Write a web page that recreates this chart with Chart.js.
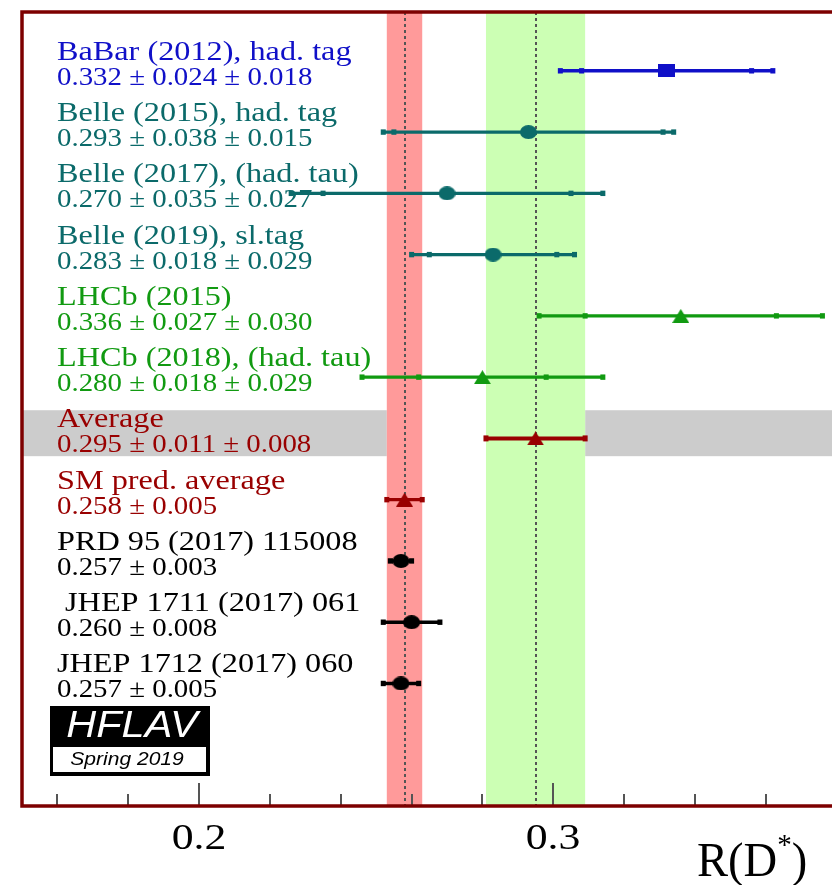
<!DOCTYPE html>
<html>
<head>
<meta charset="utf-8">
<script src="https://cdn.jsdelivr.net/npm/chart.js@4/dist/chart.umd.min.js"></script>
<style>
  html, body { margin: 0; padding: 0; background: #fff; }
  canvas { display: block; }
</style>
</head>
<body>
<canvas id="myChart" width="832" height="885"></canvas>
<script>
// measurements, top to bottom
const names = [
  'BaBar (2012), had. tag',
  'Belle (2015), had. tag',
  'Belle (2017), (had. tau)',
  'Belle (2019), sl.tag',
  'LHCb (2015)',
  'LHCb (2018), (had. tau)',
  'Average',
  'SM pred. average',
  'PRD 95 (2017) 115008',
  ' JHEP 1711 (2017) 061',
  'JHEP 1712 (2017) 060'
];
const valueTexts = [
  '0.332 \u00b1 0.024 \u00b1 0.018',
  '0.293 \u00b1 0.038 \u00b1 0.015',
  '0.270 \u00b1 0.035 \u00b1 0.027',
  '0.283 \u00b1 0.018 \u00b1 0.029',
  '0.336 \u00b1 0.027 \u00b1 0.030',
  '0.280 \u00b1 0.018 \u00b1 0.029',
  '0.295 \u00b1 0.011 \u00b1 0.008',
  '0.258 \u00b1 0.005',
  '0.257 \u00b1 0.003',
  '0.260 \u00b1 0.008',
  '0.257 \u00b1 0.005'
];
const centers  = [0.332, 0.293, 0.270, 0.283, 0.336, 0.280, 0.295, 0.258, 0.257, 0.260, 0.257];
const statErr  = [0.024, 0.038, 0.035, 0.018, 0.027, 0.018, 0.014, 0.005, 0.003, 0.008, 0.005];
const totalErr = [0.030, 0.041, 0.044, 0.023, 0.040, 0.034, 0.014, 0.005, 0.003, 0.008, 0.005];

const minorTicks = [0.16, 0.18, 0.22, 0.24, 0.26, 0.28, 0.32, 0.34, 0.36];
const majorTicks = [0.2, 0.3];
const tickLabels = ['0.2', '0.3'];

const SM_ROW = 7, AVG_ROW = 6;

// styles
const BLUE = '#1010c8', TEAL = '#0b6a6a', GREEN = '#119a11', DRED = '#990000', BLACK = '#000';
const rowColors = [BLUE, TEAL, TEAL, TEAL, GREEN, GREEN, DRED, DRED, BLACK, BLACK, BLACK];
const rowShapes = ['rect', 'circle', 'circle', 'circle', 'tri', 'tri', 'tri', 'tri', 'circle', 'circle', 'circle'];

function marker(shape, color, w, h) {
  const c = document.createElement('canvas');
  c.width = w; c.height = h;
  const g = c.getContext('2d');
  g.fillStyle = color;
  g.beginPath();
  if (shape === 'rect') g.rect(0, 0, w, h);
  else if (shape === 'circle') g.ellipse(w / 2, h / 2, w / 2, h / 2, 0, 0, Math.PI * 2);
  else { g.moveTo(w / 2, 0); g.lineTo(w, h); g.lineTo(0, h); g.closePath(); }
  g.fill();
  return c;
}

function sText(ctx, text, x, y, font, sx, color, align) {
  ctx.save();
  ctx.font = font;
  ctx.fillStyle = color;
  ctx.textAlign = align || 'left';
  ctx.textBaseline = 'alphabetic';
  ctx.translate(x, y);
  ctx.scale(sx, 1);
  ctx.fillText(text, 0, 0);
  ctx.restore();
}

const backdrop = {
  id: 'backdrop',
  beforeDatasetsDraw(chart) {
    const { ctx, chartArea: a, scales: { x, y } } = chart;
    ctx.save();
    const redL = x.getPixelForValue(centers[SM_ROW] - totalErr[SM_ROW]);
    const redR = x.getPixelForValue(centers[SM_ROW] + totalErr[SM_ROW]);
    const grnL = x.getPixelForValue(centers[AVG_ROW] - totalErr[AVG_ROW]);
    const grnR = x.getPixelForValue(centers[AVG_ROW] + totalErr[AVG_ROW]);
    // grey strip behind the average
    const gt = y.getPixelForValue(AVG_ROW - 0.46), gb = y.getPixelForValue(AVG_ROW + 0.29);
    ctx.fillStyle = '#cccccc';
    ctx.fillRect(a.left, gt, redL - a.left, gb - gt);
    ctx.fillRect(grnR, gt, a.right - grnR, gb - gt);
    // SM band and average band
    ctx.fillStyle = '#ff9a9a';
    ctx.fillRect(redL, a.top, redR - redL, a.bottom - a.top);
    ctx.fillStyle = '#ccffb4';
    ctx.fillRect(grnL, a.top, grnR - grnL, a.bottom - a.top);
    // dashed central lines
    ctx.strokeStyle = '#555';
    ctx.lineWidth = 2;
    ctx.setLineDash([3, 3]);
    [centers[SM_ROW], centers[AVG_ROW]].forEach(v => {
      const px = Math.round(x.getPixelForValue(v));
      ctx.beginPath();
      ctx.moveTo(px, a.top);
      ctx.lineTo(px, a.bottom);
      ctx.stroke();
    });
    ctx.setLineDash([]);

    // labels
    names.forEach((n, i) => {
      const py = y.getPixelForValue(i);
      sText(ctx, n, 57, py - 11, '27px "Liberation Serif"', 1.194, rowColors[i]);
      sText(ctx, valueTexts[i], 57, py + 14, '26px "Liberation Serif"', 1.11, rowColors[i]);
    });

    // error bars
    centers.forEach((c, i) => {
      const py = y.getPixelForValue(i);
      const lo = x.getPixelForValue(c - totalErr[i]);
      const hi = x.getPixelForValue(c + totalErr[i]);
      const lw = i === AVG_ROW ? 4 : 3.4;
      ctx.strokeStyle = rowColors[i];
      ctx.fillStyle = rowColors[i];
      ctx.lineWidth = lw;
      ctx.beginPath();
      ctx.moveTo(lo, py);
      ctx.lineTo(hi, py);
      ctx.stroke();
      const caps = [lo, hi];
      if (statErr[i] !== totalErr[i]) {
        caps.push(x.getPixelForValue(c - statErr[i]), x.getPixelForValue(c + statErr[i]));
      }
      caps.forEach(px => ctx.fillRect(px - 2.5, py - lw / 2 - 1, 5, lw + 2));
    });
    ctx.restore();
  },
  afterDraw(chart) {
    const { ctx, chartArea: a, scales: { x } } = chart;
    ctx.save();
    // inward ticks
    ctx.strokeStyle = '#555';
    ctx.lineWidth = 2;
    minorTicks.forEach(v => {
      const px = Math.round(x.getPixelForValue(v));
      ctx.beginPath(); ctx.moveTo(px, a.bottom); ctx.lineTo(px, a.bottom - 12); ctx.stroke();
    });
    majorTicks.forEach((v, k) => {
      const px = Math.round(x.getPixelForValue(v));
      ctx.beginPath(); ctx.moveTo(px, a.bottom); ctx.lineTo(px, a.bottom - 23); ctx.stroke();
      sText(ctx, tickLabels[k], px, a.bottom + 43, '35px "Liberation Serif"', 1.25, '#000', 'center');
    });
    // frame (right side is outside the picture)
    ctx.strokeStyle = '#7d0000';
    ctx.lineWidth = 3.5;
    ctx.beginPath();
    ctx.moveTo(a.right + 2, a.top);
    ctx.lineTo(a.left, a.top);
    ctx.lineTo(a.left, a.bottom);
    ctx.lineTo(a.right + 2, a.bottom);
    ctx.stroke();

    // axis title R(D*)
    ctx.fillStyle = '#000';
    const ty = 876;
    ctx.save();
    ctx.translate(697, 0);
    ctx.scale(0.97, 1);
    let cx = 0;
    ctx.font = '48px "Liberation Serif"';
    ctx.fillText('R(D', cx, ty);
    cx += ctx.measureText('R(D').width;
    ctx.font = '30px "Liberation Serif"';
    ctx.fillText('*', cx, ty - 22);
    cx += ctx.measureText('*').width;
    ctx.font = '48px "Liberation Serif"';
    ctx.fillText(')', cx, ty);
    ctx.restore();

    // HFLAV logo
    ctx.fillStyle = '#000';
    ctx.fillRect(50, 706, 160, 70);
    ctx.fillStyle = '#fff';
    ctx.fillRect(53, 747, 153, 25);
    sText(ctx, 'HFLAV', 132, 737, 'italic 37px "Liberation Sans"', 1.12, '#fff', 'center');
    sText(ctx, 'Spring 2019', 127, 765, 'italic 18px "Liberation Sans"', 1.17, '#000', 'center');
    ctx.restore();
  }
};

const datasets = centers.map((c, i) => ({
  label: names[i],
  data: [{ x: c, y: i }],
  pointStyle: marker(rowShapes[i], rowColors[i], 17, rowShapes[i] === 'rect' ? 13 : 14),
  pointRadius: 8,
  backgroundColor: rowColors[i],
  borderColor: rowColors[i]
}));

const ctx = document.getElementById('myChart').getContext('2d');
new Chart(ctx, {
  type: 'scatter',
  data: { datasets },
  options: {
    responsive: false,
    animation: false,
    layout: { autoPadding: false, padding: { left: 22, top: 12, right: 0, bottom: 79 } },
    plugins: { legend: { display: false }, tooltip: { enabled: false } },
    scales: {
      x: { type: 'linear', min: 0.15, max: 0.3787, display: false },
      y: { type: 'linear', min: -0.96, max: 12, reverse: true, display: false }
    }
  },
  plugins: [backdrop]
});
</script>
</body>
</html>
